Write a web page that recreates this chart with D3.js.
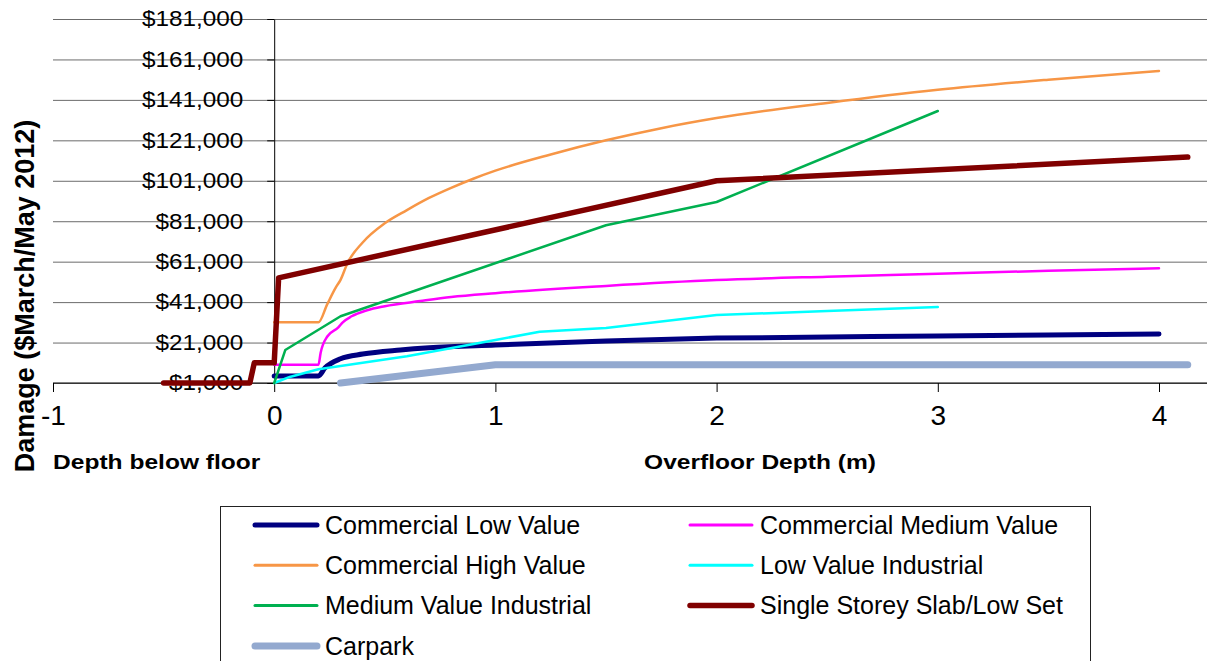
<!DOCTYPE html>
<html>
<head>
<meta charset="utf-8">
<script src="https://cdn.jsdelivr.net/npm/d3@7"></script>
<style>
  html, body { margin: 0; padding: 0; background: #fff; }
  svg { display: block; font-family: "Liberation Sans", Arial, sans-serif; }
</style>
</head>
<body>
<svg id="chart" width="1207" height="661"></svg>
<script>
// ---- data: depth (m) vs damage ($March/May 2012) ----
const commLowDepth  = [0, 0.2, 0.23, 0.3, 0.4, 0.57, 0.7, 1, 1.5, 2, 3, 4];
const commLowDamage = [4500, 4500, 8500, 13000, 15300, 17300, 18400, 19800, 21800, 23200, 24200, 25200];

const commMedDepth  = [0, 0.2, 0.21, 0.24, 0.29, 0.31, 0.35, 0.42, 0.5, 0.66, 0.8, 1, 1.5, 2, 2.5, 3, 3.5, 4];
const commMedDamage = [10000, 10000, 16000, 24000, 28500, 31000, 34000, 37000, 39000, 41500, 43500, 45400, 49000, 51900, 53600, 55000, 56500, 57700];

const commHighDepth  = [0, 0.2, 0.24, 0.28, 0.3, 0.33, 0.4, 0.5, 0.6, 0.7, 0.8, 0.9, 1, 1.25, 1.5, 1.75, 2, 2.5, 3, 3.5, 4];
const commHighDamage = [31000, 31000, 40000, 48500, 52000, 60000, 70500, 80000, 86500, 92500, 97500, 102000, 106000, 114000, 121000, 127000, 132000, 139500, 146000, 151000, 155300];

const lowIndDepth  = [0, 0.07, 0.2, 0.6, 1, 1.2, 1.5, 2, 2.5, 3];
const lowIndDamage = [1000, 4000, 7800, 14200, 22300, 26300, 28200, 34600, 36600, 38600];

const medIndDepth  = [0, 0.05, 0.3, 1.5, 2, 3];
const medIndDamage = [1000, 17300, 34000, 79000, 90500, 135500];

const slabDepth  = [-0.5, -0.11, -0.09, 0, 0.02, 2, 4.13];
const slabDamage = [1000, 1000, 11000, 11000, 53000, 101000, 112700];

const carparkDepth  = [0.3, 1, 4.13];
const carparkDamage = [1000, 10000, 10000];

const seriesNames = [
  "Commercial Low Value", "Commercial Medium Value",
  "Commercial High Value", "Low Value Industrial",
  "Medium Value Industrial", "Single Storey Slab/Low Set",
  "Carpark"
];
const seriesColors = ["#000080", "#FF00FF", "#F79646", "#00FFFF", "#00B050", "#800000", "#93A9CF"];
const seriesWidths = [5, 2.5, 2.5, 2.5, 2.5, 5.5, 7];
// curves that bend smoothly rather than in straight segments
const smoothSeries = ["Commercial Low Value", "Commercial Medium Value", "Commercial High Value"];

const yTicks = d3.range(1000, 181001, 20000);
const xTicks = [-1, 0, 1, 2, 3, 4];

const depthArrays  = [commLowDepth, commMedDepth, commHighDepth, lowIndDepth, medIndDepth, slabDepth, carparkDepth];
const damageArrays = [commLowDamage, commMedDamage, commHighDamage, lowIndDamage, medIndDamage, slabDamage, carparkDamage];

const series = seriesNames.map((name, i) => ({
  name,
  color: seriesColors[i],
  width: seriesWidths[i],
  points: depthArrays[i].map((d, j) => ({ depth: d, damage: damageArrays[i][j] }))
}));

// ---- layout ----
const W = 1207, H = 661;
const svg = d3.select("#chart");
const x = d3.scaleLinear().domain([-1, 4]).range([53, 1159]);
const y = d3.scaleLinear().domain([1000, 181000]).range([383, 19]);
const yAxisX = x(0);
const TXT_SX = 1.13;   // horizontal text stretch

// gridlines spanning the full width
svg.append("g")
  .attr("transform", `translate(${x(-1)},0)`)
  .call(d3.axisLeft(y).tickValues(yTicks).tickSize(-(W - x(-1))).tickFormat(""))
  .call(g => g.select(".domain").remove())
  .call(g => g.selectAll("line").attr("stroke", "#6b6b6b").attr("stroke-width", 1));

// y axis with tick labels
const yAxis = svg.append("g")
  .attr("transform", `translate(${yAxisX},0)`)
  .call(d3.axisLeft(y).tickValues(yTicks).tickSizeInner(7).tickSizeOuter(0).tickPadding(24)
        .tickFormat(d3.format("$,.0f")));
yAxis.select(".domain").attr("stroke", "#000");
yAxis.selectAll("line").attr("stroke", "#000");
yAxis.selectAll("text")
  .attr("font-size", 21.5)
  .attr("fill", "#000")
  .attr("font-family", "'Liberation Sans', Arial, sans-serif")
  .attr("x", -31 / TXT_SX)
  .attr("transform", `scale(${TXT_SX},1)`);

// x axis
const xAxis = svg.append("g")
  .attr("transform", "translate(0,383)")
  .call(d3.axisBottom(x).tickValues(xTicks).tickSizeInner(9).tickSizeOuter(0).tickPadding(13)
        .tickFormat(d => String(d)));
xAxis.select(".domain").remove();
xAxis.append("line")
  .attr("x1", x(-1)).attr("x2", W).attr("y1", 0).attr("y2", 0)
  .attr("stroke", "#000").attr("stroke-width", 1);
xAxis.selectAll(".tick line").attr("stroke", "#000");
xAxis.selectAll("text")
  .attr("font-size", 28)
  .attr("fill", "#000")
  .attr("font-family", "'Liberation Sans', Arial, sans-serif");

// series lines
const linear = d3.line().x(d => x(d.depth)).y(d => y(d.damage));
const smooth = d3.line().x(d => x(d.depth)).y(d => y(d.damage)).curve(d3.curveMonotoneX);
svg.append("g").selectAll("path")
  .data(series)
  .join("path")
  .attr("d", d => (smoothSeries.includes(d.name) ? smooth : linear)(d.points))
  .attr("fill", "none")
  .attr("stroke", d => d.color)
  .attr("stroke-width", d => d.width)
  .attr("stroke-linejoin", "round")
  .attr("stroke-linecap", "round");

// axis titles
svg.append("text")
  .attr("transform", `translate(${x(-1)},469) scale(${TXT_SX + 0.04},1)`)
  .attr("font-size", 21).attr("font-weight", "bold").attr("fill", "#000")
  .text("Depth below floor");

svg.append("text")
  .attr("transform", `translate(760,469) scale(${TXT_SX + 0.04},1)`)
  .attr("text-anchor", "middle")
  .attr("font-size", 21).attr("font-weight", "bold").attr("fill", "#000")
  .text("Overfloor Depth (m)");

svg.append("text")
  .attr("transform", "translate(34,296) rotate(-90)")
  .attr("text-anchor", "middle")
  .attr("font-size", 27).attr("font-weight", "bold").attr("fill", "#000")
  .text("Damage ($March/May 2012)");

// legend
const legend = svg.append("g");
legend.append("rect")
  .attr("x", 220.5).attr("y", 506.5).attr("width", 870).attr("height", 200)
  .attr("fill", "#fff").attr("stroke", "#222").attr("stroke-width", 1);

const items = legend.selectAll("g.item")
  .data(series)
  .join("g")
  .attr("class", "item")
  .attr("transform", (d, i) => `translate(${255 + (i % 2) * 435},${525 + Math.floor(i / 2) * 40.3})`);
items.append("line")
  .attr("x1", 0).attr("x2", 62).attr("y1", 0).attr("y2", 0)
  .attr("stroke", d => d.color)
  .attr("stroke-width", d => Math.max(3, d.width))
  .attr("stroke-linecap", "round");
items.append("text")
  .attr("x", 70).attr("y", 0).attr("dy", "0.35em")
  .attr("font-size", 25).attr("fill", "#000")
  .text(d => d.name);
</script>
</body>
</html>
